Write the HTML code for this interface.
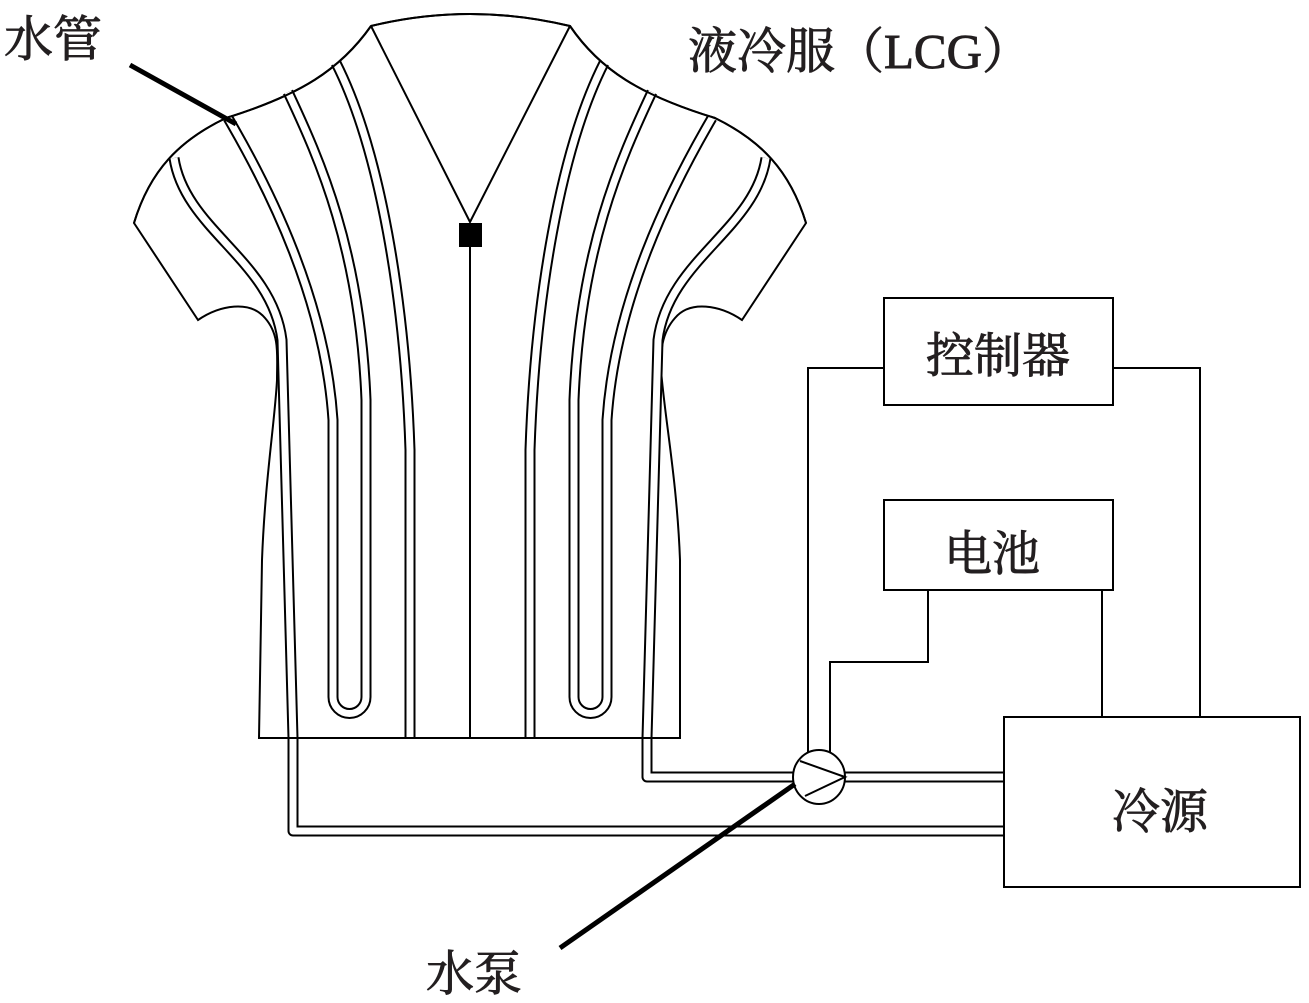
<!DOCTYPE html>
<html><head><meta charset="utf-8"><style>
html,body{margin:0;padding:0;background:#fff;}
svg{display:block;}
text{font-family:"Liberation Serif","Noto Serif CJK SC","Noto Sans CJK SC",serif;fill:#231f20;stroke:#231f20;stroke-width:0.9;}
</style></head><body>
<svg width="1309" height="1003" viewBox="0 0 1309 1003" xmlns="http://www.w3.org/2000/svg">
<g fill="none" stroke="#000" stroke-width="2">
<path d="M371,26 Q470,2 570,26 C600,70 640,95 715,118 C760,140 790,170 806,223 L742,320 C720,305 690,300 675,318 C660,335 661,355 661,370 C665,420 677,480 680,560 L680,738 L259,738 L262,560 C265,480 275,420 277,380 C277,355 280,335 265,318 C250,300 220,305 198,320 L134,223 C150,170 180,140 226,118 C300,95 340,70 371,26 Z"/>
<path d="M371,26 L470,222 L570,26"/>
<line x1="470" y1="240" x2="470" y2="738"/>
</g>
<rect x="459" y="223" width="23" height="24" fill="#000"/>
<g fill="none" stroke-linejoin="round">
<g stroke="#000" stroke-width="11">
<path id="t1" d="M174,158 C185,230 272,260 282,340 L293,738 L293,831 L1004,831"/>
<path id="t2" d="M228,118 C270,190 325,300 333,420 L333,697 A16.5,16.5 0 0 0 366,697 L366,400 C360,250 320,160 288,92"/>
<path id="t3" d="M336,63 C380,150 405,300 410,450 L410,738"/>
<path id="t4" d="M766,158 C755,230 668,260 658,340 L647,738 L647,777 L1004,777"/>
<path id="t5" d="M712,118 C670,190 615,300 607,420 L607,697 A16.5,16.5 0 0 1 574,697 L574,400 C580,250 620,160 652,92"/>
<path id="t6" d="M604,63 C560,150 535,300 530,450 L530,738"/>
</g>
<g stroke="#fff" stroke-width="7">
<use href="#t1"/><use href="#t2"/><use href="#t3"/><use href="#t4"/><use href="#t5"/><use href="#t6"/>
</g>
</g>
<g fill="none" stroke="#000" stroke-width="2">
<path d="M371,26 Q470,2 570,26 C600,70 640,95 715,118 C760,140 790,170 806,223"/>
<path d="M371,26 C340,70 300,95 226,118 C180,140 150,170 134,223"/>
<line x1="259" y1="738" x2="680" y2="738"/>
</g>
<g fill="none" stroke="#000" stroke-width="2">
<rect x="884" y="298" width="229" height="107"/>
<rect x="884" y="500" width="229" height="90"/>
<rect x="1004" y="717" width="296" height="170"/>
<path d="M808,760 L808,368 L884,368"/>
<path d="M830,760 L830,662 L928,662 L928,590"/>
<path d="M1113,368 L1200,368 L1200,717"/>
<path d="M1102,590 L1102,717"/>
</g>
<ellipse cx="819" cy="777" rx="26" ry="27" fill="#fff" stroke="#000" stroke-width="2"/>
<path d="M800,761 L845,777 L805,796" fill="none" stroke="#000" stroke-width="2"/>
<line x1="795" y1="784" x2="560" y2="948" stroke="#000" stroke-width="5"/>
<line x1="130" y1="65" x2="236" y2="124" stroke="#000" stroke-width="5"/>
<text x="4" y="56" font-size="49">水管</text>
<text x="688" y="68" font-size="49">液冷服（LCG）</text>
<text x="998" y="372" font-size="48" text-anchor="middle">控制器</text>
<text x="992" y="570" font-size="48" text-anchor="middle">电池</text>
<text x="1160" y="828" font-size="48" text-anchor="middle">冷源</text>
<text x="474" y="990" font-size="48" text-anchor="middle">水泵</text>
</svg>
</body></html>
